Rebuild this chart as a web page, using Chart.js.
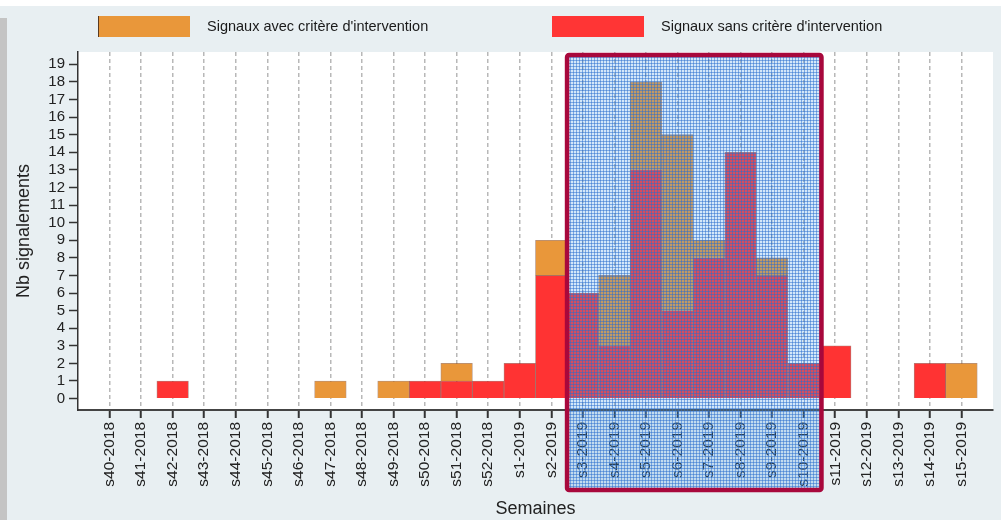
<!DOCTYPE html>
<html>
<head>
<meta charset="utf-8">
<script src="https://cdn.jsdelivr.net/npm/chart.js@4.4.1/dist/chart.umd.min.js"></script>
<style>
  html, body { margin: 0; padding: 0; background: #ffffff; }
  #wrap { position: relative; width: 1001px; height: 520px; background: #e8eff2; overflow: hidden; }
  #topband { position: absolute; left: 0; top: 0; width: 1001px; height: 6px; background: #ffffff; }
  #leftband { position: absolute; left: 0; top: 18px; width: 7px; height: 502px; background: #c4c4c4; }
  canvas { position: absolute; left: 0; top: 0; }
  .leg { position: absolute; top: 16px; height: 21px; font-family: "Liberation Sans", Arial, sans-serif; font-size: 14.5px; color: #1a1a1a; }
  .leg .box { position: absolute; left: 0; top: 0; width: 92px; height: 21px; }
  .leg .txt { position: absolute; left: 109px; top: 2px; white-space: nowrap; }
</style>
</head>
<body>
<div id="wrap">
  <div id="topband"></div>
  <div id="leftband"></div>
  <canvas id="barChart" width="1001" height="520"></canvas>
  <div class="leg" style="left:98px"><div class="box" style="background:#e9973a;border-left:1px solid #5a3a20;box-sizing:border-box"></div><div class="txt">Signaux avec critère d'intervention</div></div>
  <div class="leg" style="left:552px"><div class="box" style="background:#ff3535"></div><div class="txt">Signaux sans critère d'intervention</div></div>
</div>
<script>
const weeks = ['s40-2018', 's41-2018', 's42-2018', 's43-2018', 's44-2018', 's45-2018', 's46-2018',
  's47-2018', 's48-2018', 's49-2018', 's50-2018', 's51-2018', 's52-2018', 's1-2019', 's2-2019',
  's3-2019', 's4-2019', 's5-2019', 's6-2019', 's7-2019', 's8-2019', 's9-2019', 's10-2019',
  's11-2019', 's12-2019', 's13-2019', 's14-2019', 's15-2019'];
const sansCritere = [0, 0, 1, 0, 0, 0, 0, 0, 0, 0, 1, 1, 1, 2, 7, 6, 3, 13, 5, 8, 14, 7, 2, 3, 0, 0, 2, 0];
const avecCritere = [0, 0, 0, 0, 0, 0, 0, 1, 0, 1, 0, 1, 0, 0, 2, 0, 4, 5, 10, 1, 0, 1, 0, 0, 0, 0, 0, 2];
const yTicks = [0, 1, 2, 3, 4, 5, 6, 7, 8, 9, 10, 11, 12, 13, 14, 15, 16, 17, 18, 19];
const highlightWeeks = ['s3-2019', 's10-2019'];

const FONT = '"Liberation Sans", Arial, sans-serif';

// hatched blue pattern for the highlighted period
function makePattern(ctx) {
  const p = document.createElement('canvas');
  p.width = 3; p.height = 3;
  const c = p.getContext('2d');
  c.fillStyle = 'rgba(80,160,230,0.25)';
  c.fillRect(0, 0, 3, 3);
  c.fillStyle = 'rgba(40,110,205,0.5)';
  c.fillRect(0, 0, 3, 1);
  c.fillRect(0, 0, 1, 3);
  return ctx.createPattern(p, 'repeat');
}

const plotBackground = {
  id: 'plotBackground',
  beforeDraw(chart) {
    const { ctx, chartArea: a } = chart;
    ctx.save();
    ctx.fillStyle = '#ffffff';
    ctx.fillRect(a.left, a.top, a.right - a.left, a.bottom - a.top);
    ctx.restore();
  }
};

const highlightBox = {
  id: 'highlightBox',
  afterDraw(chart) {
    const { ctx, chartArea: a } = chart;
    const x = chart.scales.x;
    const half = (x.getPixelForValue(1) - x.getPixelForValue(0)) / 2;
    const left = x.getPixelForValue(weeks.indexOf(highlightWeeks[0])) - half;
    const right = x.getPixelForValue(weeks.indexOf(highlightWeeks[1])) + half + 2;
    const top = a.top + 3;
    const bottom = 490;
    ctx.save();
    ctx.fillStyle = makePattern(ctx);
    ctx.fillRect(left, top, right - left, bottom - top);
    ctx.strokeStyle = '#a8083c';
    ctx.lineWidth = 4.5;
    ctx.beginPath();
    ctx.roundRect(left, top, right - left, bottom - top, 2);
    ctx.stroke();
    ctx.restore();
  }
};

// leave one empty week-width at each end of the x axis
function padCategoryAxis(s) {
  s.ticks = weeks.map((w, i) => ({ value: i, label: w }));
  s._startValue = -1;
  s._valueRange = weeks.length + 1;
}

const ctx = document.getElementById('barChart').getContext('2d');
new Chart(ctx, {
  type: 'bar',
  data: {
    labels: weeks,
    datasets: [{
      label: "Signaux sans critère d'intervention",
      data: sansCritere,
      backgroundColor: '#ff3333',
      borderColor: 'rgba(110,30,20,0.55)',
      borderWidth: 0.8,
      barPercentage: 1,
      categoryPercentage: 1
    }, {
      label: "Signaux avec critère d'intervention",
      data: avecCritere,
      backgroundColor: '#e9973a',
      borderColor: 'rgba(110,50,20,0.55)',
      borderWidth: 0.8,
      barPercentage: 1,
      categoryPercentage: 1
    }]
  },
  options: {
    responsive: false,
    animation: false,
    layout: { padding: { top: 52, right: 8, left: 0, bottom: 0 } },
    plugins: {
      legend: { display: false },
      tooltip: { enabled: false }
    },
    scales: {
      x: {
        stacked: true,
        offset: false,
        afterBuildTicks: padCategoryAxis,
        afterFit: s => { s.height = 110; },
        grid: {
          offset: false,
          drawOnChartArea: true,
          color: '#b8b8b8',
          lineWidth: 1.5,
          tickColor: '#333333',
          tickWidth: 2,
          tickLength: 8
        },
        border: { display: true, color: '#444444', width: 2, dash: [4, 3] },
        ticks: {
          autoSkip: false,
          minRotation: 90,
          maxRotation: 90,
          padding: 4,
          color: '#222222',
          font: { family: FONT, size: 15.5 }
        },
        title: {
          display: true,
          text: 'Semaines',
          color: '#222222',
          padding: { top: 0, bottom: 0 },
          font: { family: FONT, size: 18 }
        }
      },
      y: {
        stacked: true,
        min: -0.65,
        max: 19.7,
        afterBuildTicks: s => { s.ticks = yTicks.map(v => ({ value: v })); },
        afterFit: s => { s.width = 78; },
        grid: {
          drawOnChartArea: false,
          tickColor: '#333333',
          tickWidth: 1.5,
          tickLength: 9
        },
        border: { display: true, color: '#333333', width: 1.5 },
        ticks: {
          autoSkip: false,
          padding: 4,
          color: '#222222',
          font: { family: FONT, size: 15 }
        },
        title: {
          display: true,
          text: 'Nb signalements',
          color: '#222222',
          padding: { top: 13, bottom: 0 },
          font: { family: FONT, size: 18 }
        }
      }
    }
  },
  plugins: [plotBackground, highlightBox]
});
</script>
</body>
</html>
